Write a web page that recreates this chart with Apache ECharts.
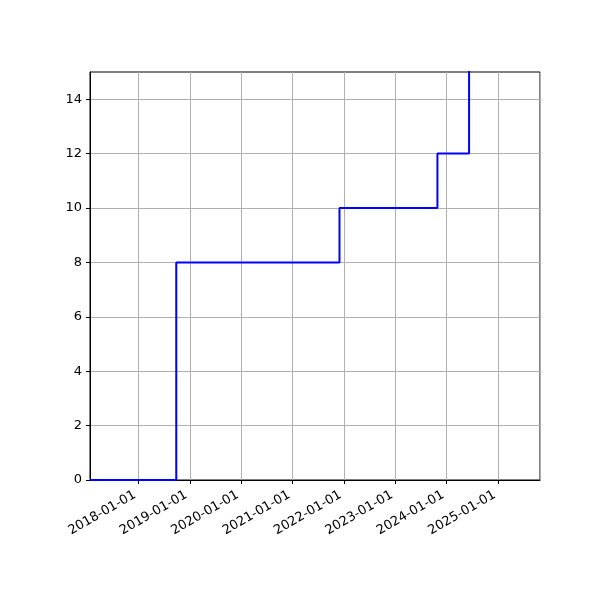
<!DOCTYPE html>
<html>
<head>
<meta charset="utf-8">
<script src="https://cdn.jsdelivr.net/npm/echarts@6/dist/echarts.min.js"></script>
<style>
  html, body { margin: 0; padding: 0; background: #fff; }
  #main { width: 600px; height: 600px; }
</style>
</head>
<body>
<div id="main"></div>
<script>
// step dates and the count reached at each one
var stepDates = ['2017-01-22', '2018-09-27', '2021-11-30', '2023-10-27', '2024-06-08'];
var stepValues = [0, 8, 10, 12, 20];
var xMin = '2017-01-22';
var xMax = '2025-10-25';
var yTicks = [0, 2, 4, 6, 8, 10, 12, 14];

var myChart = echarts.init(document.getElementById('main'));

var seriesData = stepDates.map(function (d, i) {
    return [d, stepValues[i]];
});

var option = {
    backgroundColor: '#ffffff',
    animation: false,
    textStyle: { fontFamily: 'DejaVu Sans' },
    grid: {
        left: 90,
        right: 60,
        top: 72,
        bottom: 120,
        show: true,
        borderColor: '#000',
        borderWidth: 1
    },
    xAxis: {
        type: 'time',
        min: xMin,
        max: xMax,
        minInterval: 365 * 24 * 3600 * 1000,
        maxInterval: 366 * 24 * 3600 * 1000,
        axisLine: { show: true, lineStyle: { color: '#000', width: 1 } },
        axisTick: { show: true, inside: false, length: 4, lineStyle: { color: '#000' } },
        minorTick: { show: false },
        splitLine: { show: true, lineStyle: { color: '#b0b0b0', width: 1 } },
        axisLabel: {
            rotate: 30,
            color: '#000',
            fontSize: 13,
            margin: 12,
            padding: [0, 4, 0, 0],
            hideOverlap: false,
            showMinLabel: false,
            showMaxLabel: false,
            formatter: '{yyyy}-{MM}-{dd}'
        }
    },
    yAxis: {
        type: 'value',
        min: 0,
        max: 15,
        interval: 2,
        axisLine: { show: true, lineStyle: { color: '#000', width: 1 } },
        axisTick: { show: true, inside: false, length: 4, customValues: yTicks, lineStyle: { color: '#000' } },
        splitLine: { show: true, lineStyle: { color: '#b0b0b0', width: 1 } },
        axisLabel: {
            color: '#000',
            fontSize: 13,
            margin: 8,
            customValues: yTicks
        }
    },
    series: [{
        type: 'line',
        step: 'end',
        data: seriesData,
        showSymbol: false,
        clip: true,
        lineStyle: { color: '#0000ff', width: 2 }
    }]
};

myChart.setOption(option);
</script>
</body>
</html>
